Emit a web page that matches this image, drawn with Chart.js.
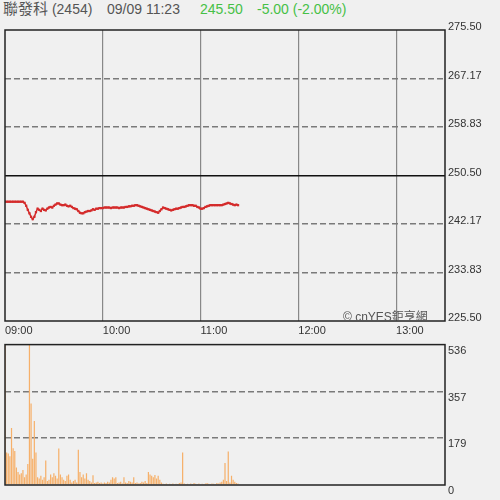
<!DOCTYPE html>
<html>
<head>
<meta charset="utf-8">
<script src="https://cdn.jsdelivr.net/npm/chart.js@4/dist/chart.umd.min.js"></script>
<style>
  html, body { margin: 0; padding: 0; background: #f0f0f0; }
  body { width: 500px; height: 500px; position: relative; overflow: hidden;
         font-family: "Liberation Sans", Arial, "Noto Sans CJK TC", sans-serif; }
  .hdr { position: absolute; top: 0; font-size: 14px; line-height: 18px; color: #555; white-space: nowrap; }
  .hdr .cjk { font-size: 15px; }
  .hdr.green { color: #46c046; }
  #mark { position: absolute; left: 343px; top: 307px; font-size: 12px; color: #555; white-space: nowrap; }
  #priceBox { position: absolute; left: 0; top: 0; width: 500px; height: 340px; }
  #volBox { position: absolute; left: 0; top: 335px; width: 500px; height: 165px; }
</style>
</head>
<body>
<span class="hdr" style="left:3px"><span class="cjk">聯發科</span> (2454)</span>
<span class="hdr" style="left:107px">09/09 11:23</span>
<span class="hdr green" style="left:200px">245.50</span>
<span class="hdr green" style="left:257px">-5.00 (-2.00%)</span>

<div id="priceBox"><canvas id="priceChart"></canvas></div>
<div id="volBox"><canvas id="volChart"></canvas></div>
<span id="mark">© cnYES鉅亨網</span>

<script>
// --- data (minutes after 09:00) ---
const prevClose = 250.5;
const priceTicks = [225.5, 233.83, 242.17, 250.5, 258.83, 267.17, 275.5];
const volTicks = [0, 179, 357, 536];
const timeTicks = [0, 60, 120, 180, 240];
const timeLabels = ['09:00', '10:00', '11:00', '12:00', '13:00'];

const prices = [
  246.0, 246.0, 246.0, 246.0, 246.0, 246.0, 246.0, 246.0, 246.0, 246.0, 246.0, 246.0,
  245.8, 245.3, 244.6, 244.0, 243.4, 243.0, 243.4, 244.2, 244.8, 244.6, 244.4, 244.8,
  244.6, 244.5, 244.8, 245.0, 245.1, 245.0, 245.3, 245.5, 245.7, 245.7, 245.5, 245.4,
  245.4, 245.5, 245.3, 245.2, 245.3, 245.1, 244.9, 244.8, 244.7, 244.4, 244.1, 244.0,
  244.0, 244.2, 244.3, 244.4, 244.4, 244.5, 244.7, 244.6, 244.8, 244.8, 244.9, 244.9,
  244.9, 245.0, 245.0, 245.0, 245.0, 244.9, 245.0, 245.0, 245.0, 245.0, 244.9, 245.0,
  245.0, 245.0, 245.1, 245.1, 245.2, 245.2, 245.3, 245.3, 245.4, 245.4, 245.3, 245.2,
  245.1, 245.0, 244.9, 244.8, 244.7, 244.6, 244.5, 244.4, 244.3, 244.2, 244.1, 244.4,
  244.7, 245.0, 244.9, 244.8, 244.7, 244.6, 244.5, 244.6, 244.7, 244.8, 244.8, 244.9,
  245.0, 245.1, 245.1, 245.2, 245.3, 245.4, 245.4, 245.4, 245.3, 245.3, 245.1, 245.0,
  244.8, 244.8, 244.9, 245.1, 245.2, 245.3, 245.4, 245.4, 245.4, 245.4, 245.4, 245.4,
  245.4, 245.4, 245.5, 245.6, 245.7, 245.8, 245.7, 245.6, 245.5, 245.4, 245.5, 245.4
];

const volumes = [
  536, 124, 120, 110, 218, 140, 130, 67, 50, 40, 45, 57,
  30, 40, 80, 536, 311, 100, 244, 124, 30, 25, 35, 20,
  30, 94, 15, 20, 40, 30, 45, 35, 25, 139, 40, 30,
  20, 15, 35, 40, 20, 10, 15, 20, 10, 135, 50, 30,
  40, 25, 45, 20, 15, 10, 37, 8, 10, 12, 8, 10,
  6, 10, 8, 12, 10, 20, 30, 25, 30, 8, 10, 12,
  6, 30, 10, 8, 15, 12, 10, 30, 8, 10, 6, 8,
  12, 10, 15, 8, 50, 40, 35, 30, 38, 25, 35, 20,
  10, 5, 4, 6, 3, 5, 4, 6, 3, 5, 4, 8,
  10, 124, 6, 4, 5, 3, 6, 4, 8, 5, 4, 6,
  3, 5, 4, 6, 8, 5, 4, 6, 5, 4, 8, 6,
  10, 12, 20, 84, 15, 128, 10, 35, 20, 12, 8, 6
];

const FONT = "'Liberation Sans', Arial, sans-serif";

// black frame round the plot area
const framePlugin = {
  id: 'frame',
  afterDraw(chart) {
    const a = chart.chartArea;
    const c = chart.ctx;
    c.save();
    c.strokeStyle = '#222';
    c.lineWidth = 1.5;
    c.strokeRect(a.left, a.top, a.right - a.left, a.bottom - a.top);
    c.restore();
  }
};

// --- price chart ---
new Chart(document.getElementById('priceChart'), {
  type: 'line',
  data: {
    datasets: [{
      data: prices.map((p, i) => ({ x: i, y: p })),
      borderColor: '#d42b2b',
      borderWidth: 1.5,
      pointStyle: 'rect',
      pointRadius: 1.6,
      pointBackgroundColor: '#d42b2b',
      pointBorderWidth: 0,
      tension: 0
    }]
  },
  options: {
    responsive: true,
    maintainAspectRatio: false,
    animation: false,
    events: [],
    layout: { padding: { left: 5, top: 30, right: 0, bottom: 0 } },
    plugins: { legend: { display: false }, tooltip: { enabled: false } },
    scales: {
      x: {
        type: 'linear', min: 0, max: 270,
        afterBuildTicks: s => { s.ticks = timeTicks.map(v => ({ value: v })); },
        afterFit: s => { s.height = 19; },
        grid: {
          drawTicks: false,
          color: ctx => (ctx.tick && ctx.tick.value > 0) ? '#888' : 'rgba(0,0,0,0)',
          lineWidth: 1.2
        },
        border: { display: false },
        ticks: {
          align: 'start', padding: 3, maxRotation: 0, autoSkip: false,
          color: '#333', font: { family: FONT, size: 11 },
          callback: (v) => timeLabels[timeTicks.indexOf(v)]
        }
      },
      y: {
        position: 'right', min: 225.5, max: 275.5,
        afterBuildTicks: s => { s.ticks = priceTicks.map(v => ({ value: v })); },
        afterFit: s => { s.width = 55; },
        grid: {
          drawTicks: false,
          color: ctx => {
            const v = ctx.tick && ctx.tick.value;
            if (v === prevClose) return '#111';
            if (v === 225.5 || v === 275.5) return 'rgba(0,0,0,0)';
            return '#7a7a7a';
          },
          lineWidth: 1.5
        },
        border: { display: false, dash: ctx => (ctx.tick && ctx.tick.value === prevClose) ? [] : [6, 3] },
        ticks: {
          padding: 3, labelOffset: -3,
          color: '#333', font: { family: FONT, size: 11 },
          callback: v => v.toFixed(2)
        }
      }
    }
  },
  plugins: [framePlugin]
});

// --- volume chart ---
new Chart(document.getElementById('volChart'), {
  type: 'bar',
  data: {
    datasets: [{
      data: volumes.map((v, i) => ({ x: i, y: v })),
      backgroundColor: '#f6b06a',
      barPercentage: 1.0,
      categoryPercentage: 0.75
    }]
  },
  options: {
    responsive: true,
    maintainAspectRatio: false,
    animation: false,
    events: [],
    layout: { padding: { left: 5, top: 7, right: 0, bottom: 15 } },
    plugins: { legend: { display: false }, tooltip: { enabled: false } },
    scales: {
      x: {
        type: 'linear', min: 0, max: 270, offset: false,
        display: false
      },
      y: {
        position: 'right', min: 0, max: 536,
        afterBuildTicks: s => { s.ticks = volTicks.map(v => ({ value: v })); },
        afterFit: s => { s.width = 55; },
        grid: {
          drawTicks: false,
          color: ctx => {
            const v = ctx.tick && ctx.tick.value;
            return (v === 0 || v === 536) ? 'rgba(0,0,0,0)' : '#7a7a7a';
          },
          lineWidth: 1.5
        },
        border: { display: false, dash: [6, 3] },
        ticks: {
          padding: 3, labelOffset: 6,
          color: '#333', font: { family: FONT, size: 11 },
          callback: v => String(v)
        }
      }
    }
  },
  plugins: [framePlugin]
});
</script>
</body>
</html>
